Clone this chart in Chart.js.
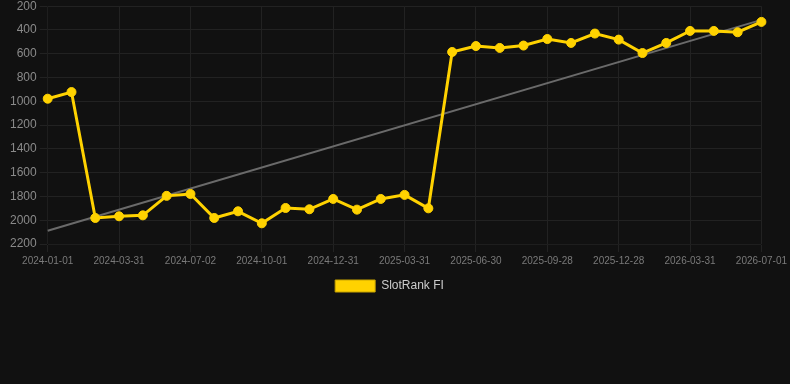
<!DOCTYPE html>
<html>
<head>
<meta charset="utf-8">
<script src="https://cdn.jsdelivr.net/npm/chart.js@4.4.0/dist/chart.umd.min.js"></script>
<style>
  html, body { margin: 0; padding: 0; background: #111111; overflow: hidden; }
  #wrap { width: 790px; height: 306px; position: relative; margin-top: -4px; }
</style>
</head>
<body>
<div id="wrap"><canvas id="grafico"></canvas></div>
<script>
// fechas (una cada ~30 dias)
var fechas = [
  '2024-01-01', '2024-01-31', '2024-03-01', '2024-03-31', '2024-05-01', '2024-06-01',
  '2024-07-02', '2024-08-01', '2024-09-01', '2024-10-01', '2024-10-31', '2024-12-01',
  '2024-12-31', '2025-01-30', '2025-03-01', '2025-03-31', '2025-04-30', '2025-05-31',
  '2025-06-30', '2025-07-30', '2025-08-29', '2025-09-28', '2025-10-28', '2025-11-28',
  '2025-12-28', '2026-01-27', '2026-02-28', '2026-03-31', '2026-05-01', '2026-06-01',
  '2026-07-01'
];

// posicion en el ranking
var ranking = [
  978, 922, 1981, 1967, 1959, 1795, 1779, 1981, 1925, 2026, 1897,
  1908, 1821, 1911, 1821, 1787, 1900, 585, 535, 551, 531, 476,
  509, 430, 481, 594, 509, 408, 408, 419, 332
];

// tendencia: valor inicial y final
var tendencia = [2088, 315];

var ticksY = { min: 200, max: 2200, paso: 200 };

var datosTendencia = fechas.map(function (f, i) {
  if (i === 0) return tendencia[0];
  if (i === fechas.length - 1) return tendencia[1];
  return null;
});

var ctx = document.getElementById('grafico').getContext('2d');
Chart.defaults.font.family = '"Liberation Sans", Arial, sans-serif';

new Chart(ctx, {
  type: 'line',
  data: {
    labels: fechas,
    datasets: [{
      label: 'SlotRank FI',
      data: ranking,
      borderColor: '#ffd200',
      backgroundColor: '#ffd200',
      borderWidth: 3,
      pointRadius: 4.5,
      pointHoverRadius: 4.5,
      pointBorderWidth: 1,
      pointBackgroundColor: '#ffd200',
      pointBorderColor: '#ffd200',
      tension: 0,
      order: 1
    }, {
      label: 'trend',
      data: datosTendencia,
      borderColor: '#6a6a6a',
      borderWidth: 2,
      pointRadius: 0,
      spanGaps: true,
      fill: false,
      order: 2
    }]
  },
  options: {
    responsive: true,
    maintainAspectRatio: false,
    animation: false,
    layout: { padding: { left: 7, top: 0, right: 18, bottom: 0 } },
    plugins: {
      legend: {
        position: 'bottom',
        labels: {
          color: '#cccccc',
          font: { size: 12 },
          boxWidth: 40,
          boxHeight: 12,
          filter: function (item) { return item.text !== 'trend'; },
          generateLabels: function (chart) {
            var items = Chart.defaults.plugins.legend.labels.generateLabels(chart);
            items.forEach(function (it) { it.lineWidth = 1; it.strokeStyle = '#c9a400'; });
            return items;
          }
        }
      },
      tooltip: { enabled: false }
    },
    scales: {
      x: {
        grid: { color: '#222222' },
        ticks: {
          color: '#7a7a7a',
          font: { size: 10 },
          autoSkip: false,
          maxRotation: 0,
          callback: function (v, i) { return i % 3 === 0 ? fechas[i] : null; }
        }
      },
      y: {
        reverse: true,
        min: ticksY.min,
        max: ticksY.max,
        grid: { color: '#222222' },
        ticks: {
          stepSize: ticksY.paso,
          color: '#8a8a8a',
          font: { size: 12 },
          callback: function (v) { return String(v); }
        }
      }
    }
  }
});
</script>
</body>
</html>
